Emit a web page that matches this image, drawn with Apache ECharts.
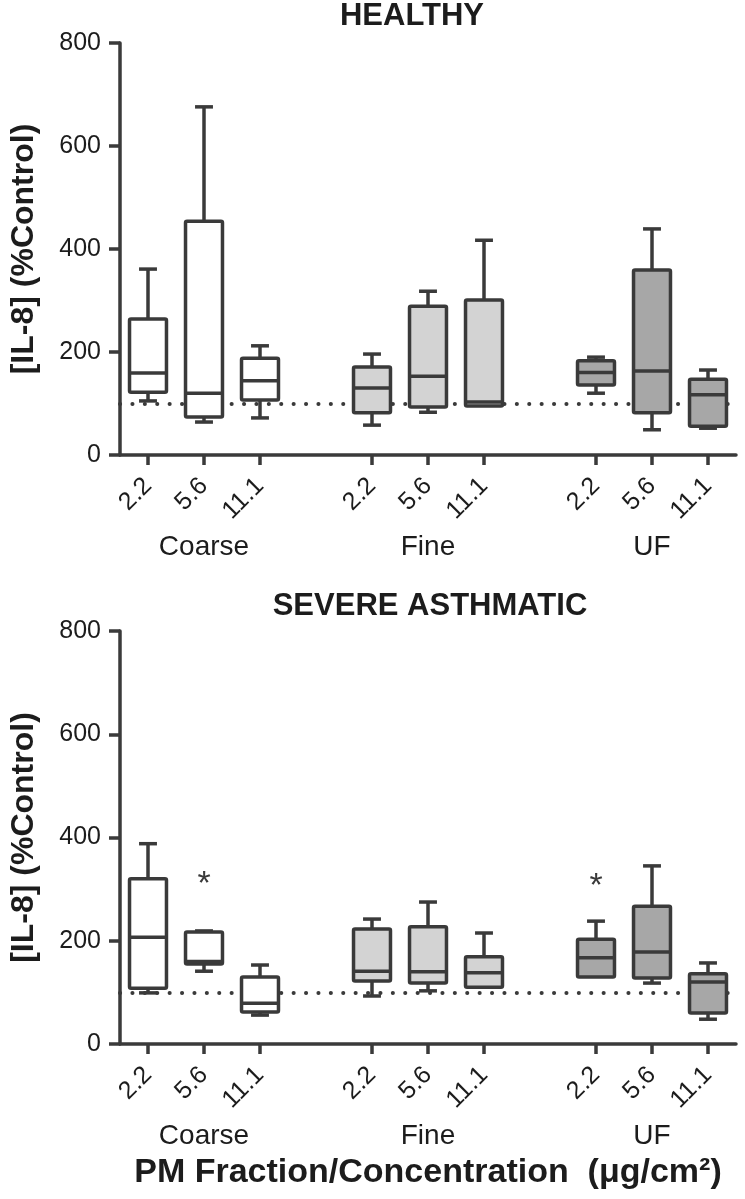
<!DOCTYPE html>
<html>
<head>
<meta charset="utf-8">
<script src="https://cdn.jsdelivr.net/npm/echarts@6/dist/echarts.min.js"></script>
<style>
html,body{margin:0;padding:0;background:#fff;}
#chart{width:745px;height:1199px;}
</style>
</head>
<body>
<div id="chart"></div>
<script>
// ---------------- DATA ----------------
const fractions = ['Coarse', 'Fine', 'UF'];
const concentrations = ['2.2', '5.6', '11.1'];
const yTickMin = 0, yTickMax = 800, yTickStep = 200;
const referenceLevel = 100;

// each box: [min, Q1, median, Q3, max]  (% of control)
const healthyCoarse = [[105,122,159,264,361],[64,74,120,454,676],[72,107,144,188,212]];
const healthyFine   = [[58,82,130,171,196],[83,93,153,289,318],[95,95,103,301,417]];
const healthyUF     = [[120,136,160,183,190],[49,82,163,359,439],[52,56,117,147,165]];

const asthmaticCoarse = [[99,108,207,320,388],[141,155,160,217,219],[56,62,79,130,153]];
const asthmaticFine   = [[93,122,141,223,242],[103,118,140,227,275],[110,110,138,169,215]];
const asthmaticUF     = [[130,130,167,203,238],[118,128,178,267,345],[48,60,120,136,157]];

// significance markers: [fraction, concentration, y-position]
const asthmaticSignificant = [['Coarse','5.6',327],['UF','2.2',322]];

const panelTitles = ['HEALTHY', 'SEVERE ASTHMATIC'];
const yAxisTitle = '[IL-8] (%Control)';
const xAxisTitle = 'PM Fraction/Concentration  (\u03bcg/cm\u00b2)';

// ---------------- STYLE ----------------
const FONT = "'Liberation Sans', Arial, Helvetica, sans-serif";
const INK = '#3a3a3a';
const TXT = '#1c1c1c';
const LW = 3.5;
const fractionFill = ['#ffffff', '#d3d3d3', '#a7a7a7'];

// ---------------- BUILD ----------------
const categories = [];
fractions.forEach((f, fi) => {
  concentrations.forEach(c => categories.push(f + '|' + c));
  if (fi < fractions.length - 1) categories.push('gap' + fi);
});
function catIndex(f, c) { return categories.indexOf(f + '|' + c); }

function boxData(groups) {
  const out = [];
  groups.forEach((arr, fi) => arr.forEach((b, ci) => {
    out.push([catIndex(fractions[fi], concentrations[ci])].concat(b).concat([fi]));
  }));
  return out;
}
const healthyData = boxData([healthyCoarse, healthyFine, healthyUF]);
const asthmaticData = boxData([asthmaticCoarse, asthmaticFine, asthmaticUF]);
const asthmaticStars = asthmaticSignificant.map(s => [catIndex(s[0], s[1]), s[2]]);

function renderBox(params, api) {
  const xi = api.value(0);
  const x = api.coord([xi, 0])[0];
  const yMin = api.coord([xi, api.value(1)])[1];
  const yQ1 = api.coord([xi, api.value(2)])[1];
  const yMed = api.coord([xi, api.value(3)])[1];
  const yQ3 = api.coord([xi, api.value(4)])[1];
  const yMax = api.coord([xi, api.value(5)])[1];
  const fi = api.value(6);
  const band = api.size([1, 0])[0];
  const half = band * 0.33;
  const cap = band * 0.16;
  const ls = { stroke: INK, lineWidth: LW };
  const kids = [];
  if (api.value(5) > api.value(4)) {
    kids.push({ type: 'line', shape: { x1: x, y1: yQ3, x2: x, y2: yMax }, style: ls });
    kids.push({ type: 'line', shape: { x1: x - cap, y1: yMax, x2: x + cap, y2: yMax }, style: ls });
  }
  if (api.value(1) < api.value(2)) {
    kids.push({ type: 'line', shape: { x1: x, y1: yQ1, x2: x, y2: yMin }, style: ls });
    kids.push({ type: 'line', shape: { x1: x - cap, y1: yMin, x2: x + cap, y2: yMin }, style: ls });
  }
  kids.push({ type: 'rect', shape: { x: x - half, y: yQ3, width: half * 2, height: yQ1 - yQ3, r: 1.5 },
    style: { fill: fractionFill[fi], stroke: INK, lineWidth: LW, lineJoin: 'round' } });
  kids.push({ type: 'line', shape: { x1: x - half, y1: yMed, x2: x + half, y2: yMed }, style: ls });
  return { type: 'group', children: kids };
}

function renderStar(params, api) {
  const p = api.coord([api.value(0), api.value(1)]);
  return { type: 'text', x: p[0], y: p[1] + 9,
    style: { text: '*', font: '34px ' + FONT, fill: INK, align: 'center', verticalAlign: 'middle' } };
}

const grids = [
  { left: 116, top: 43, width: 620, height: 412 },
  { left: 116, top: 631, width: 620, height: 413 }
];

function mainX(gi) {
  return {
    type: 'category', gridIndex: gi, data: categories, boundaryGap: true,
    axisLine: { lineStyle: { color: INK, width: LW } },
    axisTick: { show: true, length: 10, lineStyle: { color: INK, width: LW }, alignWithLabel: true,
      interval: (i, v) => v.indexOf('gap') !== 0 },
    axisLabel: { interval: 0, rotate: 45, margin: 27, fontSize: 25, color: TXT, fontFamily: FONT,
      formatter: v => v.indexOf('gap') === 0 ? '' : v.split('|')[1] },
    splitLine: { show: false },
    name: gi === 1 ? xAxisTitle : '', nameLocation: 'middle', nameGap: 112,
    nameTextStyle: { fontSize: 34, fontWeight: 'bold', color: TXT, fontFamily: FONT }
  };
}
function groupX(gi) {
  return {
    type: 'category', gridIndex: gi, data: categories, boundaryGap: true, position: 'bottom',
    axisLine: { show: false }, axisTick: { show: false }, splitLine: { show: false },
    axisLabel: { interval: 0, margin: 78, fontSize: 28, color: TXT, fontFamily: FONT,
      formatter: v => { const p = v.split('|'); return p[1] === concentrations[1] ? p[0] : ''; } }
  };
}
function yAx(gi) {
  return {
    type: 'value', gridIndex: gi, min: yTickMin, max: yTickMax, interval: yTickStep,
    axisLine: { show: true, lineStyle: { color: INK, width: LW } },
    axisTick: { show: true, length: 11, lineStyle: { color: INK, width: LW } },
    axisLabel: { margin: 19, fontSize: 25, color: TXT, fontFamily: FONT },
    splitLine: { show: false },
    name: yAxisTitle, nameLocation: 'middle', nameGap: 80,
    nameTextStyle: { fontSize: 32, fontWeight: 'bold', color: TXT, fontFamily: FONT }
  };
}
function refLine() {
  return {
    silent: true, z: 1, symbol: ['none', 'none'], animation: false,
    label: { show: false },
    lineStyle: { color: INK, width: 4, type: [0.1, 12.3], cap: 'round' },
    data: [{ yAxis: referenceLevel }]
  };
}

const option = {
  animation: false,
  backgroundColor: '#ffffff',
  grid: grids,
  xAxis: [mainX(0), groupX(0), mainX(1), groupX(1)],
  yAxis: [yAx(0), yAx(1)],
  graphic: [
    { type: 'text', x: 412, y: 16, style: { text: panelTitles[0], font: 'bold 31px ' + FONT, fill: TXT, align: 'center', verticalAlign: 'middle' } },
    { type: 'text', x: 430, y: 606, style: { text: panelTitles[1], font: 'bold 31px ' + FONT, fill: TXT, align: 'center', verticalAlign: 'middle' } }
  ],
  series: [
    { type: 'custom', xAxisIndex: 0, yAxisIndex: 0, data: healthyData, renderItem: renderBox, z: 3,
      encode: { x: 0, y: [1, 2, 3, 4, 5] }, markLine: refLine() },
    { type: 'custom', xAxisIndex: 2, yAxisIndex: 1, data: asthmaticData, renderItem: renderBox, z: 3,
      encode: { x: 0, y: [1, 2, 3, 4, 5] }, markLine: refLine() },
    { type: 'custom', xAxisIndex: 2, yAxisIndex: 1, data: asthmaticStars, renderItem: renderStar, z: 4,
      encode: { x: 0, y: 1 } }
  ]
};

const chart = echarts.init(document.getElementById('chart'), null, { renderer: 'canvas' });
chart.setOption(option);
</script>
</body>
</html>
